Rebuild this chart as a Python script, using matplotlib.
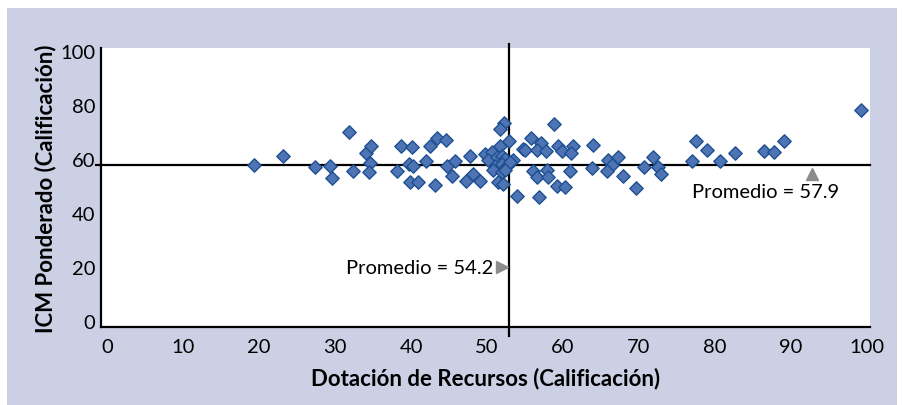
"""Scatter of ICM Ponderado vs Dotación de Recursos with average lines."""
import matplotlib

matplotlib.use("Agg")
import matplotlib.pyplot as plt
from matplotlib.patches import Rectangle

plt.rcParams["font.family"] = ["Lato", "DejaVu Sans"]

# Dotación de Recursos (x) and ICM Ponderado (y) per unit
dotacion = [
    19.3, 23.2, 27.4, 29.3, 29.6, 31.8, 32.4, 34.1, 34.7, 34.6,
    34.5, 38.7, 40.1, 38.2, 39.7, 40.3, 39.9, 40.9, 42.5, 43.4,
    44.6, 42.0, 43.2, 44.7, 45.8, 45.4, 47.2, 47.8, 48.2, 52.2,
    51.7, 51.7, 52.9, 49.7, 50.7, 50.1, 51.3, 52.0, 52.4, 53.4,
    51.1, 52.0, 52.6, 53.0, 50.8, 52.0, 52.4, 49.1, 51.4, 52.1,
    53.9, 54.7, 58.8, 55.8, 57.1, 55.0, 56.6, 57.8, 59.3, 59.9,
    61.3, 61.1, 63.9, 56.1, 57.9, 56.6, 58.0, 60.9, 63.8, 59.2,
    60.3, 56.8, 65.9, 67.2, 66.4, 65.8, 67.9, 69.6, 71.8, 70.7,
    72.5, 72.9, 77.5, 77.0, 78.9, 80.7, 82.6, 86.4, 87.8, 89.1,
    99.2,
]
icm = [
    57.8, 61.1, 57.0, 57.4, 53.0, 70.0, 55.6, 62.2, 64.8, 58.5,
    55.2, 64.8, 64.4, 55.6, 58.1, 57.4, 51.5, 51.5, 64.8, 67.8,
    67.0, 59.3, 50.4, 57.4, 59.3, 53.7, 51.9, 61.1, 54.4, 73.3,
    71.1, 64.8, 66.7, 61.9, 62.6, 59.6, 60.7, 61.1, 60.0, 59.6,
    57.4, 58.1, 57.4, 58.9, 55.9, 55.2, 55.9, 51.9, 51.5, 50.7,
    46.3, 63.7, 73.0, 67.8, 65.9, 63.3, 63.3, 63.0, 64.8, 63.0,
    64.8, 62.2, 65.2, 55.6, 55.9, 53.3, 53.3, 55.6, 56.7, 50.0,
    49.6, 45.9, 59.6, 60.7, 57.8, 55.6, 53.7, 49.3, 60.7, 57.0,
    57.0, 54.4, 66.7, 59.3, 63.3, 59.3, 62.2, 63.0, 62.6, 66.7,
    78.1,
]

# position of the average lines as drawn, and their labels
avg_x = 52.9
avg_y = 57.6
label_x = "Promedio = 54.2"
label_y = "Promedio = 57.9"

x_ticks = [0, 10, 20, 30, 40, 50, 60, 70, 80, 90, 100]
y_ticks = [0, 20, 40, 60, 80, 100]

panel_color = "#ccd0e5"
fill_color = "#4f74b4"
edge_color = "#1d4f91"
arrow_color = "#8c8c8c"

fig = plt.figure(figsize=(9.04, 4.06), dpi=100)
fig.patch.set_facecolor("white")
# lavender panel behind the chart
fig.patches.append(
    Rectangle((7 / 904, 0), 890 / 904, 397 / 406, transform=fig.transFigure,
              facecolor=panel_color, edgecolor="none", zorder=-10)
)

ax = fig.add_axes([101 / 904, 78 / 406, 769 / 904, 279 / 406])
ax.set_zorder(1)
ax.set_facecolor("white")
ax.set_xlim(-0.8, 100.4)
ax.set_ylim(-2.2, 101.1)

# average lines (slightly overhanging the axes like the original)
ax.plot([-1.4, 100.4], [avg_y, avg_y], color="black", lw=1.6,
        clip_on=False, zorder=2)
ax.plot([avg_x, avg_x], [-5.6, 102.5], color="black", lw=1.6,
        clip_on=False, zorder=2)

ax.scatter(dotacion, icm, marker="D", s=46, facecolor=fill_color,
           edgecolor=edge_color, linewidth=1.0, zorder=3)

# labels for the averages
ax.plot(92.8, 54.6, marker="^", ms=9, color=arrow_color, zorder=3)
ax.text(86.6, 48.0, label_y, ha="center", va="center", fontsize=14.5)
ax.plot(52.0, 20.0, marker=">", ms=9, color=arrow_color, zorder=3)
ax.text(50.8, 20.0, label_x, ha="right", va="center", fontsize=14.5)

ax.set_xticks(x_ticks)
ax.set_yticks(y_ticks)
ax.tick_params(axis="both", length=0, labelsize=14.5)
ax.tick_params(axis="x", pad=8)
ax.tick_params(axis="y", pad=4)

for side in ["top", "right"]:
    ax.spines[side].set_visible(False)
for side in ["left", "bottom"]:
    ax.spines[side].set_linewidth(1.6)
    ax.spines[side].set_color("black")

ax.set_xlabel("Dotación de Recursos (Calificación)", fontsize=16,
              fontweight="bold", labelpad=8)
ax.set_ylabel("ICM Ponderado (Calificación)", fontsize=16,
              fontweight="bold", labelpad=3)

fig.savefig("out.png", dpi=100, facecolor=fig.get_facecolor())
